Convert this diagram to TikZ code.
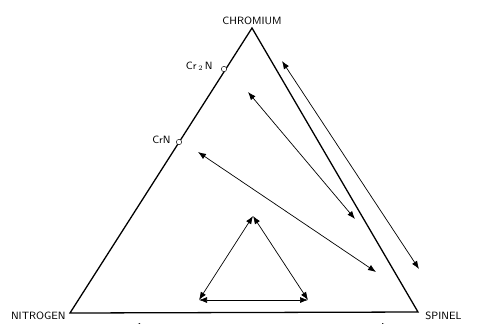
\documentclass[tikz,border=0pt]{standalone}
\usepackage{tikz}
\usetikzlibrary{arrows.meta,positioning}

\begin{document}
\begin{tikzpicture}[
      x=0.03cm, y=-0.03cm,
      lbl/.style={font=\sffamily\small, inner sep=1pt},
      edge/.style={line width=1.1pt, line join=miter},
      dbl/.style={{Latex[length=2.4mm,width=1.8mm]}-{Latex[length=2.4mm,width=1.8mm]}, line width=0.6pt},
      phase/.style={circle, draw, fill=white, inner sep=0pt, minimum size=1.6mm, line width=0.4pt}
    ]
      \useasboundingbox (0,0) rectangle (480,323);

      % --- corners of the diagram ---
      \coordinate (cr) at (252,28);
      \coordinate (ni) at (70,313);
      \coordinate (sp) at (418,312);

      \draw[edge] (cr) -- (ni) -- (sp) -- cycle;

      \node[lbl, above=2pt of cr]           (crlab) {CHROMIUM};
      \node[lbl, anchor=east] at (67,316)   (nilab) {NITROGEN};
      \node[lbl, anchor=west] at (424,316)  (splab) {SPINEL};

      % --- nitride phases on the Cr--N side ---
      \node[phase] at (224,69)  (crtwon) {};
      \node[phase] at (179,142) (crn)    {};
      \node[lbl, anchor=east] at (214,66) (crtwonlab) {Cr\,$_{2}$\,N};
      \node[lbl, anchor=east] at (172,140) (crnlab)  {CrN};

      % --- tie lines across the field ---
      \coordinate (a1) at (282,61);
      \coordinate (a2) at (419,269);
      \coordinate (b1) at (248,92);
      \coordinate (b2) at (355,219);
      \coordinate (c1) at (198,152);
      \coordinate (c2) at (376,272);

      \draw[dbl] (a1) -- (a2);
      \draw[dbl] (b1) -- (b2);
      \draw[dbl] (c1) -- (c2);

      % --- small triangle of three phases ---
      \coordinate (t1) at (253,216);
      \coordinate (t2) at (199,300);
      \coordinate (t3) at (308,300);

      \draw[dbl] (t1) -- (t2);
      \draw[dbl] (t1) -- (t3);
      \draw[dbl] (t2) -- (t3);

      % --- arrow below the base, cut off by the page edge ---
      \coordinate (d1) at (132,326);
      \coordinate (d2) at (390,326);
      \draw[dbl] (d1) -- (d2);
    \end{tikzpicture}
\end{document}
